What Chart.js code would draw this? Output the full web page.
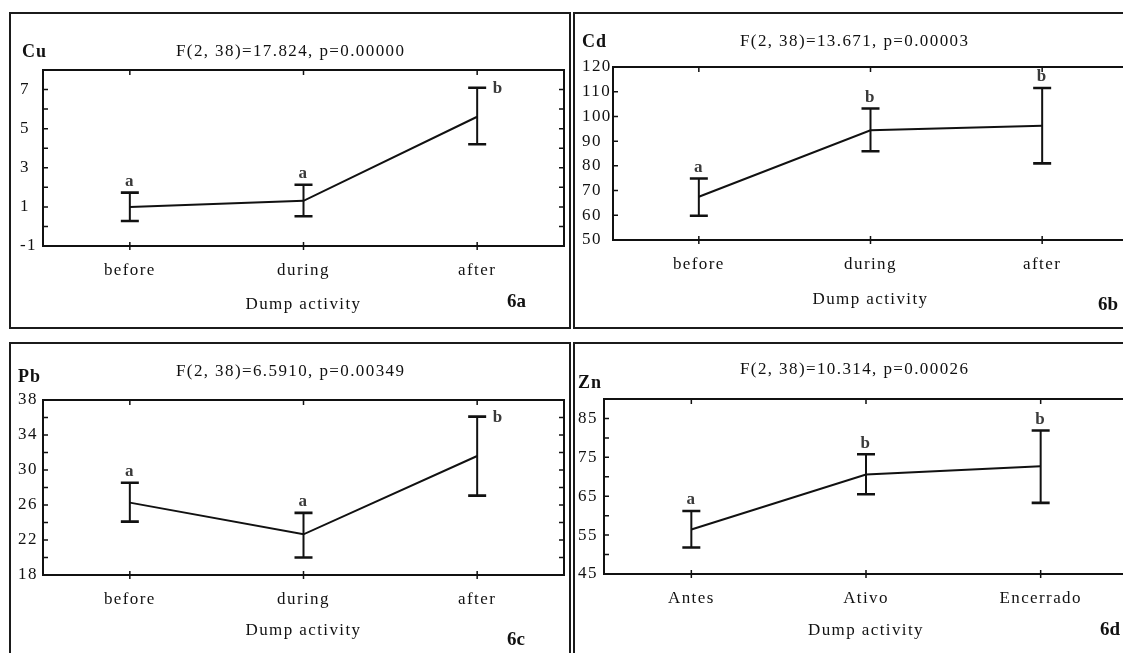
<!DOCTYPE html>
<html>
<head>
<meta charset="utf-8">
<script src="https://cdn.jsdelivr.net/npm/chart.js@4.4.1/dist/chart.umd.min.js"></script>
<style>
   body { margin: 0; width: 1123px; height: 653px; overflow: hidden; background: #fff;
          font-family: "Liberation Serif", "Times New Roman", serif; color: #111; }
   .panel { position: absolute; border: 2px solid #1b1b1b; box-sizing: border-box; overflow: hidden; background: #fff; }
   .panel canvas { position: absolute; left: 0; top: 0; }
   .txt { position: absolute; white-space: nowrap; line-height: 1; z-index: 2; }
   .stat { font-size: 17px; letter-spacing: 1.4px; }
   .elem { font-size: 18px; font-weight: bold; letter-spacing: 1px; }
   .tag { font-size: 19px; font-weight: bold; }
</style>
</head>
<body>

<div class="panel" style="left:9px; top:12px; width:562px; height:317px"><canvas id="cu_chart" width="558" height="313"></canvas></div>
<div class="panel" style="left:573px; top:12px; width:562px; height:317px"><canvas id="cd_chart" width="558" height="313"></canvas></div>
<div class="panel" style="left:9px; top:342px; width:562px; height:330px"><canvas id="pb_chart" width="558" height="326"></canvas></div>
<div class="panel" style="left:573px; top:342px; width:562px; height:330px"><canvas id="zn_chart" width="558" height="326"></canvas></div>

<div class="txt elem" style="left:22px; top:42px">Cu</div>
<div class="txt stat" style="left:176px; top:42px">F(2, 38)=17.824, p=0.00000</div>
<div class="txt tag" style="left:507px; top:291px">6a</div>

<div class="txt elem" style="left:582px; top:32px">Cd</div>
<div class="txt stat" style="left:740px; top:32px">F(2, 38)=13.671, p=0.00003</div>
<div class="txt tag" style="left:1098px; top:294px">6b</div>

<div class="txt elem" style="left:18px; top:367px">Pb</div>
<div class="txt stat" style="left:176px; top:362px">F(2, 38)=6.5910, p=0.00349</div>
<div class="txt tag" style="left:507px; top:629px">6c</div>

<div class="txt elem" style="left:578px; top:373px">Zn</div>
<div class="txt stat" style="left:740px; top:360px">F(2, 38)=10.314, p=0.00026</div>
<div class="txt tag" style="left:1100px; top:619px">6d</div>

<script>
// categories
var groups_en = ["before", "during", "after"];
var groups_pt = ["Antes", "Ativo", "Encerrado"];

// Cu
var cu_mean = [1.0, 1.31, 5.61];
var cu_upper = [1.73, 2.13, 7.09];
var cu_lower = [0.28, 0.52, 4.2];
var cu_groups = ["a", "a", "b"];
var cu_labels = [-1, 1, 3, 5, 7];

// Cd
var cd_mean = [67.5, 94.4, 96.2];
var cd_upper = [74.9, 103.2, 111.5];
var cd_lower = [59.8, 85.9, 81.0];
var cd_groups = ["a", "b", "b"];
var cd_labels = [50, 60, 70, 80, 90, 100, 110, 120];

// Pb
var pb_mean = [26.27, 22.65, 31.6];
var pb_upper = [28.55, 25.1, 36.1];
var pb_lower = [24.1, 20.0, 27.07];
var pb_groups = ["a", "a", "b"];
var pb_labels = [18, 22, 26, 30, 34, 38];

// Zn
var zn_mean = [56.45, 70.6, 72.7];
var zn_upper = [61.2, 75.8, 81.9];
var zn_lower = [51.8, 65.5, 63.3];
var zn_groups = ["a", "b", "b"];
var zn_labels = [45, 55, 65, 75, 85];

var FONT = '"Liberation Serif", "Times New Roman", serif';
var INK = '#111';

// frame, inward ticks, error bars and group letters
var statPlugin = {
   id: 'statPlugin',
   beforeDraw: function (chart) {
      chart.ctx.letterSpacing = '1.4px';
   },
   afterDatasetsDraw: function (chart, args, opts) {
      var ctx = chart.ctx, a = chart.chartArea;
      var xs = chart.scales.x, ys = chart.scales.y;
      ctx.save();
      ctx.strokeStyle = INK;
      ctx.lineWidth = 2;
      ctx.strokeRect(a.left, a.top, a.right - a.left, a.bottom - a.top);

      ctx.lineWidth = 1.5;
      ctx.beginPath();
      ys.ticks.forEach(function (t) {
         var y = ys.getPixelForValue(t.value);
         ctx.moveTo(a.left, y); ctx.lineTo(a.left + 5, y);
         ctx.moveTo(a.right, y); ctx.lineTo(a.right - 5, y);
      });
      for (var i = 0; i < chart.data.labels.length; i++) {
         var x = xs.getPixelForValue(i);
         ctx.moveTo(x, a.top); ctx.lineTo(x, a.top + 5);
         ctx.moveTo(x, a.bottom - 4); ctx.lineTo(x, a.bottom + 4);
      }
      ctx.stroke();

      // error bars
      for (var i = 0; i < opts.upper.length; i++) {
         var x = xs.getPixelForValue(i);
         var yu = ys.getPixelForValue(opts.upper[i]);
         var yl = ys.getPixelForValue(opts.lower[i]);
         ctx.lineWidth = 2;
         ctx.beginPath();
         ctx.moveTo(x, yu); ctx.lineTo(x, yl);
         ctx.stroke();
         ctx.lineWidth = 2.6;
         ctx.beginPath();
         ctx.moveTo(x - 9, yu); ctx.lineTo(x + 9, yu);
         ctx.moveTo(x - 9, yl); ctx.lineTo(x + 9, yl);
         ctx.stroke();

         // letters from the post-hoc test
         ctx.fillStyle = '#3a3a3a';
         ctx.font = 'bold 17px ' + FONT;
         ctx.textAlign = 'center';
         ctx.textBaseline = 'middle';
         if (opts.side[i] == 'right') {
            ctx.fillText(opts.groups[i], x + 21, yu + 1);
         } else {
            ctx.fillText(opts.groups[i], x, yu - 11);
         }
      }
      ctx.restore();
   }
};

function makeChart(id, p) {
   var ctx = document.getElementById(id);
   return new Chart(ctx, {
      type: 'line',
      data: {
         labels: p.labels,
         datasets: [{
            data: p.mean,
            borderColor: INK,
            borderWidth: 2,
            pointRadius: 0,
            tension: 0,
            fill: false
         }]
      },
      plugins: [statPlugin],
      options: {
         responsive: false,
         animation: false,
         layout: { padding: { left: p.padLeft, top: p.padTop, right: p.padRight, bottom: 0 } },
         plugins: {
            legend: { display: false },
            tooltip: { enabled: false },
            title: { display: false },
            statPlugin: { upper: p.upper, lower: p.lower, groups: p.groups, side: p.side }
         },
         scales: {
            x: {
               type: 'category',
               offset: true,
               grid: { display: false, drawTicks: false },
               border: { display: false },
               ticks: { color: INK, font: { family: FONT, size: 17 }, padding: 14, autoSkip: false, maxRotation: 0 },
               title: { display: true, text: 'Dump activity', color: INK,
                        font: { family: FONT, size: 17 }, padding: { top: 0, bottom: p.titlePad } },
               afterFit: function (s) { s.height = p.xHeight; }
            },
            y: {
               min: p.yMin,
               max: p.yMax,
               grid: { display: false, drawTicks: false },
               border: { display: false },
               ticks: {
                  stepSize: p.yStep,
                  autoSkip: false,
                  crossAlign: 'far',
                  padding: 0,
                  color: INK,
                  font: { family: FONT, size: 17 },
                  callback: function (v) { return p.tickLabels.indexOf(v) >= 0 ? String(v) : ''; }
               },
               afterFit: function (s) { s.width = p.yWidth; }
            }
         }
      }
   });
}

makeChart('cu_chart', {
   labels: groups_en, mean: cu_mean, upper: cu_upper, lower: cu_lower, groups: cu_groups,
   side: ['above', 'above', 'right'], tickLabels: cu_labels,
   yMin: -1, yMax: 8, yStep: 1,
   padLeft: 9, yWidth: 23, padTop: 56, padRight: 5, xHeight: 81, titlePad: 12
});

makeChart('cd_chart', {
   labels: groups_en, mean: cd_mean, upper: cd_upper, lower: cd_lower, groups: cd_groups,
   side: ['above', 'above', 'above'], tickLabels: cd_labels,
   yMin: 50, yMax: 120, yStep: 10,
   padLeft: 7, yWidth: 31, padTop: 53, padRight: 5, xHeight: 87, titlePad: 17
});

makeChart('pb_chart', {
   labels: groups_en, mean: pb_mean, upper: pb_upper, lower: pb_lower, groups: pb_groups,
   side: ['above', 'above', 'right'], tickLabels: pb_labels,
   yMin: 18, yMax: 38, yStep: 2,
   padLeft: 7, yWidth: 25, padTop: 56, padRight: 5, xHeight: 95, titlePad: 29
});

makeChart('zn_chart', {
   labels: groups_pt, mean: zn_mean, upper: zn_upper, lower: zn_lower, groups: zn_groups,
   side: ['above', 'above', 'above'], tickLabels: zn_labels,
   yMin: 45, yMax: 90, yStep: 5,
   padLeft: 3, yWidth: 26, padTop: 55, padRight: 5, xHeight: 96, titlePad: 29
});
</script>
</body>
</html>
